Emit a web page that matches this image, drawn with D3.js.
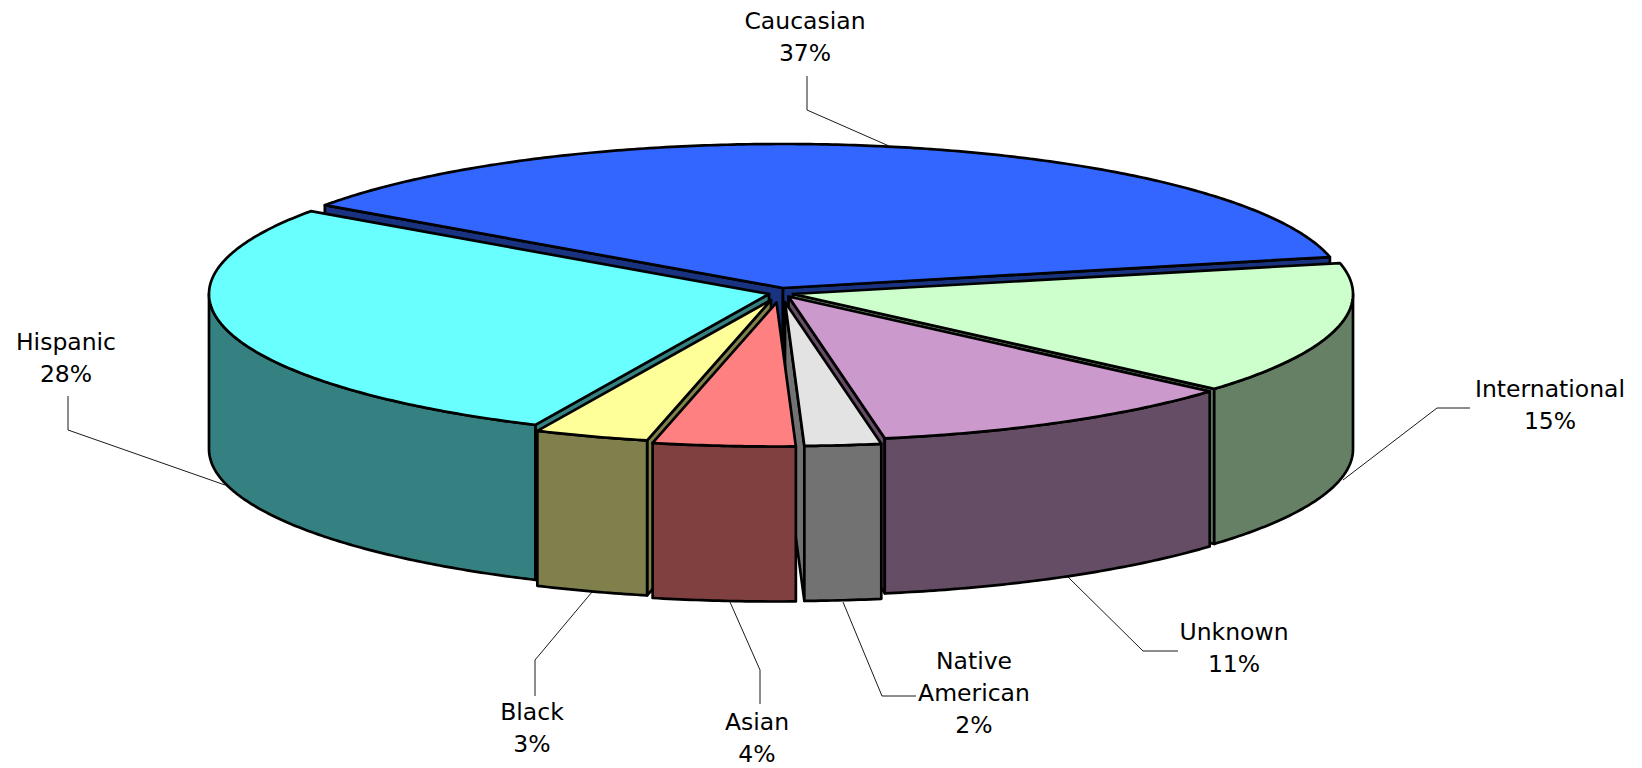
<!DOCTYPE html>
<html>
<head>
<meta charset="utf-8">
<title>Enrollment by ethnicity</title>
<script src="https://cdnjs.cloudflare.com/ajax/libs/d3/7.8.5/d3.min.js"></script>
<style>
html,body{margin:0;padding:0;background:#fff;overflow:hidden}
svg{display:block}
text{font-family:"DejaVu Sans",Verdana,sans-serif;font-size:23.5px;fill:#000}
</style>
</head>
<body>
<svg id="chart" width="1642" height="768"></svg>
<script>
// ---- data ----
const categories = ["Caucasian","International","Unknown","Native American","Asian","Black","Hispanic"];
const values = [36.8,14.9,10.8,2.2,4.1,3.3,27.9];
const percentLabels = ["37%","15%","11%","2%","4%","3%","28%"];
const labelLines = [["Caucasian"],["International"],["Unknown"],["Native","American"],["Asian"],["Black"],["Hispanic"]];
const topColors = ["#3366FF","#CCFFCC","#CC99CC","#E3E3E3","#FF8080","#FFFF99","#6AFFFF"];
const sideColors = ["#1A3380","#668066","#664D66","#727272","#804040","#80804D","#358080"];

// ---- layout ----
const W = 1642, H = 768;
const cx = 780, cy = 296, rx = 560, ry = 144, depth = 155;
const firstAngle = -54.9 * Math.PI / 180;
const explodeX = [3,13,8.5,5,-3.5,-9,-11];
const explodeY = [-8,-2,0.5,6,6.5,4,-2];
const paintOrder = [0,1,6,2,5,3,4];
const labelX = [805,1550,1234,974,757,532,66];
const labelY = [21,389,632,661,722,712,342];
const lineGap = 32;
const leaders = [
  [[807,76],[807,110],[889,146]],
  [[1470,408],[1437,408],[1343,480]],
  [[1178,651],[1143,651],[1068,577]],
  [[916,696],[882,696],[843,602]],
  [[760,704],[760,670],[730,602]],
  [[535,696],[535,660],[592,592]],
  [[68,396],[68,430],[225,485]]
];

const svg = d3.select("#chart");
const pie = d3.pie().sort(null).value(d => d)
  .startAngle(firstAngle).endAngle(firstAngle + 2 * Math.PI);
const arcs = pie(values);
const line = d3.line();

// slice-local ellipse scales
function pt(i, a, r, drop) {
  const x = d3.scaleLinear().domain([-1,1]).range([cx + explodeX[i] - rx, cx + explodeX[i] + rx]);
  const y = d3.scaleLinear().domain([-1,1]).range([cy + explodeY[i] - ry, cy + explodeY[i] + ry]);
  return [x(r * Math.sin(a)), y(-r * Math.cos(a)) + drop];
}
function arcPts(i, a0, a1, drop) {
  const n = Math.max(2, Math.ceil(Math.abs(a1 - a0) / 0.01));
  return d3.range(n + 1).map(k => pt(i, a0 + (a1 - a0) * k / n, 1, drop));
}
const shape = {stroke:"#000","stroke-width":2.7,"stroke-linejoin":"round"};
function draw(points, fill) {
  const p = svg.append("path").attr("d", line(points) + "Z").attr("fill", fill);
  Object.entries(shape).forEach(([k, v]) => p.attr(k, v));
}

paintOrder.forEach(i => {
  const d = arcs[i], a0 = d.startAngle, a1 = d.endAngle;
  const apexTop = pt(i, 0, 0, 0), apexBot = pt(i, 0, 0, depth);
  // radial walls that face the viewer
  if (Math.cos(a0 - Math.PI / 2) < 0)
    draw([apexTop, pt(i, a0, 1, 0), pt(i, a0, 1, depth), apexBot], sideColors[i]);
  if (Math.cos(a1 + Math.PI / 2) < 0)
    draw([apexTop, pt(i, a1, 1, 0), pt(i, a1, 1, depth), apexBot], sideColors[i]);
  // outer wall (front half of the ellipse only)
  const f0 = Math.max(a0, Math.PI / 2), f1 = Math.min(a1, 3 * Math.PI / 2);
  if (f1 > f0)
    draw(arcPts(i, f0, f1, 0).concat(arcPts(i, f1, f0, depth)), sideColors[i]);
  // top face
  draw([apexTop].concat(arcPts(i, a0, a1, 0)), topColors[i]);
});

// leader lines
svg.append("g").selectAll("path").data(leaders).join("path")
  .attr("d", d => line(d)).attr("fill", "none")
  .attr("stroke", "#000").attr("stroke-width", 0.9);

// labels
categories.forEach((c, i) => {
  const lines = labelLines[i].concat([percentLabels[i]]);
  svg.append("text").attr("text-anchor", "middle")
    .attr("data-category", c)
    .selectAll("tspan").data(lines).join("tspan")
    .attr("x", labelX[i])
    .attr("y", (l, k) => labelY[i] + k * lineGap + 8)
    .text(l => l);
});
</script>
</body>
</html>
